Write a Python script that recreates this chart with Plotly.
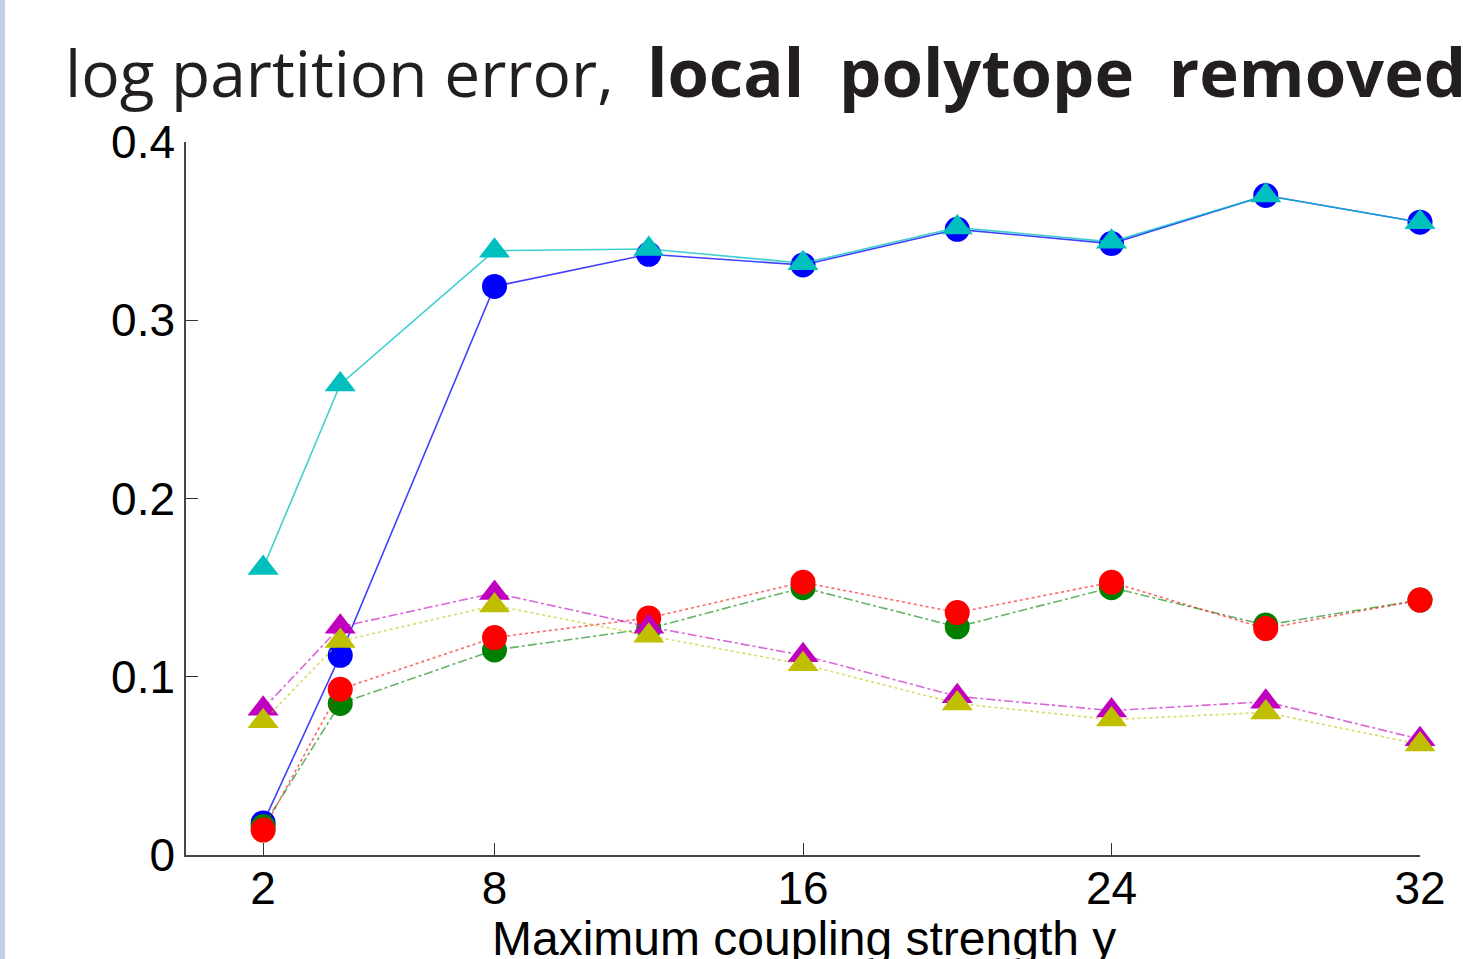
import plotly.graph_objects as go

# Maximum coupling strength values on the x axis
coupling = [2, 4, 8, 12, 16, 20, 24, 28, 32]

# Log partition error for each method
err_blue = [0.018, 0.112, 0.319, 0.337, 0.331, 0.351, 0.343, 0.370, 0.355]
err_cyan = [0.161, 0.264, 0.339, 0.340, 0.332, 0.352, 0.344, 0.370, 0.355]
err_green = [0.016, 0.085, 0.115, 0.127, 0.150, 0.128, 0.150, 0.129, 0.143]
err_red = [0.014, 0.093, 0.122, 0.133, 0.153, 0.136, 0.153, 0.127, 0.143]
err_magenta = [0.082, 0.128, 0.147, 0.128, 0.112, 0.089, 0.081, 0.086, 0.065]
err_yellow = [0.075, 0.120, 0.140, 0.123, 0.107, 0.085, 0.076, 0.080, 0.062]

x_ticks = [2, 8, 16, 24, 32]
y_ticks = [0, 0.1, 0.2, 0.3, 0.4]
y_tick_text = ["0", "0.1", "0.2", "0.3", "0.4"]

series = [
    (err_blue, "#0000ff", "rgba(0,0,255,0.75)", "solid", "circle", 25),
    (err_cyan, "#00bfbf", "rgba(0,191,191,0.75)", "solid", "triangle-up", 27),
    (err_green, "#008000", "rgba(0,128,0,0.6)", "dashdot", "circle", 25),
    (err_red, "#ff0000", "rgba(255,0,0,0.6)", "dot", "circle", 25),
    (err_magenta, "#bf00bf", "rgba(191,0,191,0.6)", "dashdot", "triangle-up", 27),
    (err_yellow, "#bfbf00", "rgba(191,191,0,0.6)", "dot", "triangle-up", 27),
]

fig = go.Figure()
for vals, mcolor, lcolor, dash, symbol, size in series:
    fig.add_trace(go.Scatter(
        x=coupling, y=vals, mode="lines+markers",
        line=dict(color=lcolor, width=1.6, dash=dash),
        marker=dict(color=mcolor, symbol=symbol, size=size, line=dict(width=0)),
        cliponaxis=False, showlegend=False,
    ))

W, H = 1463, 959
L, R, T, B = 186, 43, 142, 104
pw = W - L - R
ph = H - T - B

sp = "\u00a0\u00a0"
title_text = (
    "log partition error,\u00a0 "
    + '<b><span style="font-size:67px">local' + sp + "polytope" + sp + "removed</span></b>"
)

fig.update_layout(
    width=W, height=H,
    margin=dict(l=L, r=R, t=T, b=B, autoexpand=False),
    plot_bgcolor="white", paper_bgcolor="white",
    title=dict(
        text=title_text,
        x=65 / W, xanchor="left", xref="container",
        y=1 - 52 / H, yanchor="top", yref="container",
        font=dict(family="Open Sans", size=64, color="#231f20"),
    ),
    xaxis=dict(
        range=[0, 32], tickmode="array", tickvals=x_ticks,
        ticktext=[str(v) for v in x_ticks],
        ticks="inside", ticklen=12, tickwidth=1, tickcolor="#333",
        showline=True, linecolor="#444", linewidth=2,
        showgrid=False, zeroline=False, automargin=False,
        ticklabelstandoff=-8,
        tickfont=dict(family="Liberation Sans", size=46, color="black"),
    ),
    yaxis=dict(
        range=[0, 0.4], tickmode="array", tickvals=y_ticks, ticktext=y_tick_text,
        ticks="inside", ticklen=12, tickwidth=1, tickcolor="#333",
        showline=True, linecolor="#444", linewidth=1.5,
        showgrid=False, zeroline=False, automargin=False,
        tickfont=dict(family="Liberation Sans", size=46, color="black"),
    ),
    annotations=[dict(
        text="Maximum coupling strength y",
        xref="paper", yref="paper", x=(804 - L) / pw, y=-(910 - (H - B)) / ph,
        xanchor="center", yanchor="top", showarrow=False,
        font=dict(family="Liberation Sans", size=48, color="black"),
    )],
    shapes=[dict(
        type="rect", xref="paper", yref="paper",
        x0=-L / pw, x1=-(L - 5) / pw, y0=-B / ph, y1=1 + T / ph,
        fillcolor="#bfcfe9", line=dict(width=0), layer="below",
    )],
)

fig.write_html("out.html")
